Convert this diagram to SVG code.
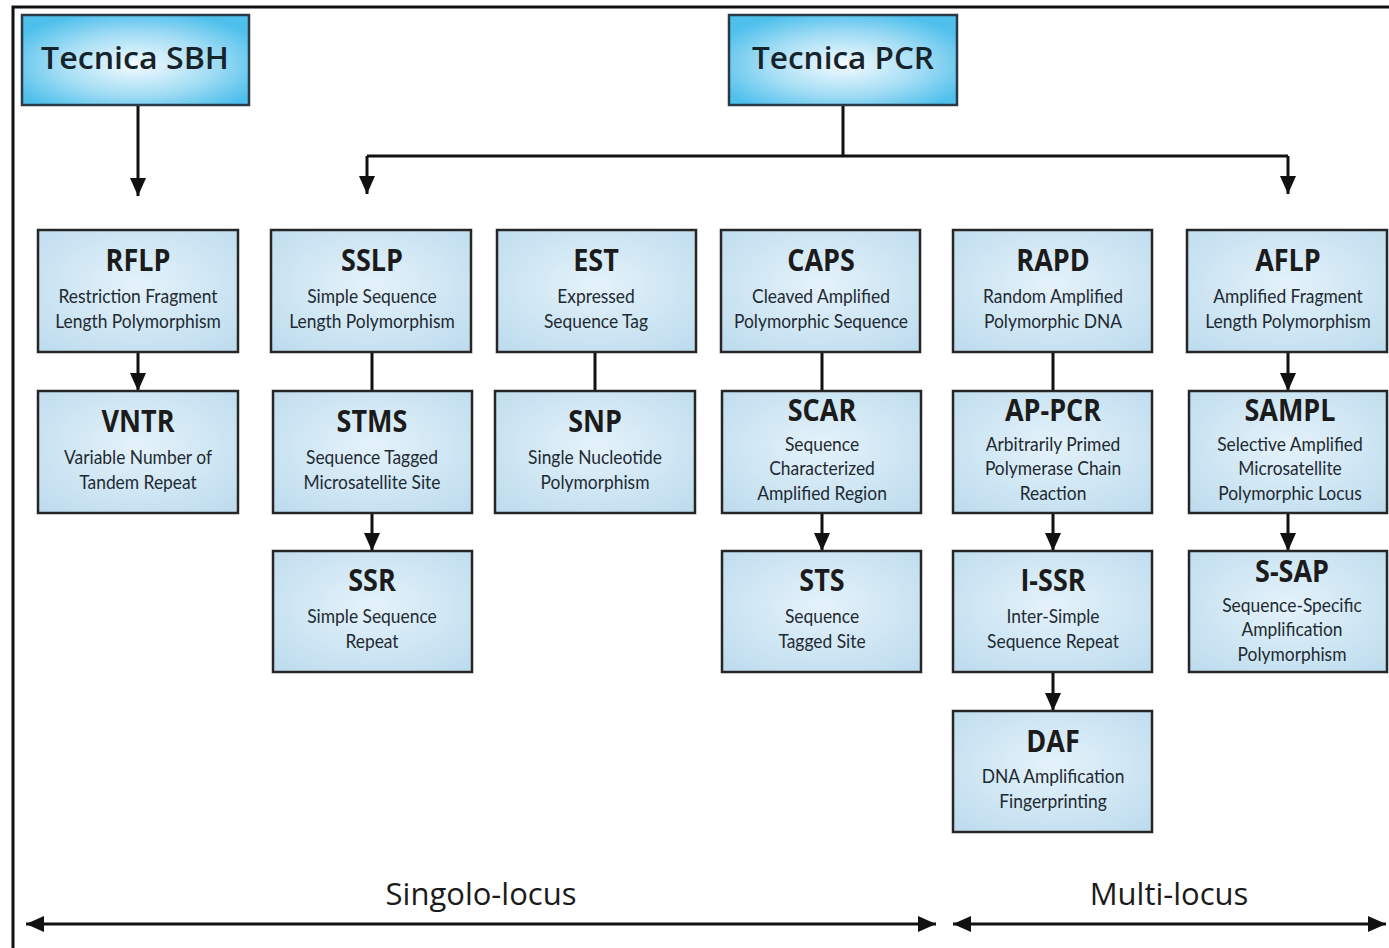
<svg xmlns="http://www.w3.org/2000/svg" width="1389" height="948" viewBox="0 0 1389 948">
<defs>
<radialGradient id="gHead" cx="50%" cy="55%" r="60%">
<stop offset="0" stop-color="#f4fbff"/>
<stop offset="0.55" stop-color="#a6def5"/>
<stop offset="1" stop-color="#4fc0ec"/>
</radialGradient>
<radialGradient id="gNode" cx="50%" cy="45%" r="70%">
<stop offset="0" stop-color="#e4f2fa"/>
<stop offset="1" stop-color="#bedcee"/>
</radialGradient>
<marker id="ah" viewBox="0 0 18 16" refX="18" refY="8" markerWidth="18" markerHeight="16" markerUnits="userSpaceOnUse" orient="auto-start-reverse">
<path d="M0,0 L18,8 L0,16 Z" fill="#111"/>
</marker>
<style>
.head{fill:url(#gHead);stroke:#2a3a44;stroke-width:2.5}
.node{fill:url(#gNode);stroke:#262626;stroke-width:2.5}
.ht{font-family:"Open Sans","Liberation Sans",sans-serif;font-weight:600;font-size:30px;fill:#17232b;text-anchor:middle}
.tt{font-family:"Open Sans","Liberation Sans",sans-serif;font-weight:700;font-size:30px;fill:#1b1b1b;text-anchor:middle}
.st{font-family:Lato,"Liberation Sans",sans-serif;font-weight:400;font-size:20px;fill:#1e2a32;text-anchor:middle}
.bt{font-family:"Open Sans","Liberation Sans",sans-serif;font-weight:400;font-size:31px;fill:#1b1b1b;text-anchor:middle}
.c{stroke:#111;stroke-width:3;fill:none}
.ca{stroke:#111;stroke-width:3;fill:none;marker-end:url(#ah)}
.cb{stroke:#111;stroke-width:3;fill:none;marker-end:url(#ah);marker-start:url(#ah)}
</style>
</defs>
<rect x="0" y="0" width="1389" height="948" fill="#ffffff"/>
<path d="M13,948 L13,7 L1389,7" stroke="#111" stroke-width="3" fill="none"/>

<g id="connectors">
<line class="ca" x1="138" y1="105" x2="138" y2="196"/>
<line class="c" x1="843" y1="105" x2="843" y2="156"/>
<line class="c" x1="367" y1="156" x2="1288" y2="156"/>
<line class="ca" x1="367" y1="156" x2="367" y2="194"/>
<line class="ca" x1="1288" y1="156" x2="1288" y2="194"/>
<line class="ca" x1="138" y1="352" x2="138" y2="391"/>
<line class="c" x1="372" y1="352" x2="372" y2="391"/>
<line class="ca" x1="372" y1="513" x2="372" y2="551"/>
<line class="c" x1="595" y1="352" x2="595" y2="391"/>
<line class="c" x1="822" y1="352" x2="822" y2="391"/>
<line class="ca" x1="822" y1="513" x2="822" y2="551"/>
<line class="c" x1="1053" y1="352" x2="1053" y2="391"/>
<line class="ca" x1="1053" y1="513" x2="1053" y2="551"/>
<line class="ca" x1="1053" y1="672" x2="1053" y2="711"/>
<line class="ca" x1="1288" y1="352" x2="1288" y2="391"/>
<line class="ca" x1="1288" y1="513" x2="1288" y2="551"/>
<line class="cb" x1="26" y1="924" x2="936" y2="924"/>
<line class="cb" x1="953" y1="924" x2="1386" y2="924"/>
</g>

<g id="sbh">
<rect class="head" x="22" y="15" width="227" height="90"/>
<text class="ht" x="135" y="69" textLength="188" lengthAdjust="spacingAndGlyphs">Tecnica SBH</text>
</g>
<g id="pcr">
<rect class="head" x="729" y="15" width="228" height="90"/>
<text class="ht" x="843" y="69" textLength="182" lengthAdjust="spacingAndGlyphs">Tecnica PCR</text>
</g>

<g id="rflp">
<rect class="node" x="38" y="230" width="200" height="122"/>
<text class="tt" transform="translate(138,271) scale(0.9,1)">RFLP</text>
<text class="st" transform="translate(138,303) scale(0.87,1)">Restriction Fragment</text>
<text class="st" transform="translate(138,328) scale(0.87,1)">Length Polymorphism</text>
</g>
<g id="sslp">
<rect class="node" x="271" y="230" width="200" height="122"/>
<text class="tt" transform="translate(372,271) scale(0.9,1)">SSLP</text>
<text class="st" transform="translate(372,303) scale(0.87,1)">Simple Sequence</text>
<text class="st" transform="translate(372,328) scale(0.87,1)">Length Polymorphism</text>
</g>
<g id="est">
<rect class="node" x="497" y="230" width="199" height="122"/>
<text class="tt" transform="translate(596,271) scale(0.9,1)">EST</text>
<text class="st" transform="translate(596,303) scale(0.87,1)">Expressed</text>
<text class="st" transform="translate(596,328) scale(0.87,1)">Sequence  Tag</text>
</g>
<g id="caps">
<rect class="node" x="721" y="230" width="199" height="122"/>
<text class="tt" transform="translate(821,271) scale(0.9,1)">CAPS</text>
<text class="st" transform="translate(821,303) scale(0.87,1)">Cleaved Amplified</text>
<text class="st" transform="translate(821,328) scale(0.87,1)">Polymorphic Sequence</text>
</g>
<g id="rapd">
<rect class="node" x="953" y="230" width="199" height="122"/>
<text class="tt" transform="translate(1053,271) scale(0.9,1)">RAPD</text>
<text class="st" transform="translate(1053,303) scale(0.87,1)">Random Amplified</text>
<text class="st" transform="translate(1053,328) scale(0.87,1)">Polymorphic DNA</text>
</g>
<g id="aflp">
<rect class="node" x="1187" y="230" width="200" height="122"/>
<text class="tt" transform="translate(1288,271) scale(0.9,1)">AFLP</text>
<text class="st" transform="translate(1288,303) scale(0.87,1)">Amplified Fragment</text>
<text class="st" transform="translate(1288,328) scale(0.87,1)">Length Polymorphism</text>
</g>

<g id="vntr">
<rect class="node" x="38" y="391" width="200" height="122"/>
<text class="tt" transform="translate(138,432) scale(0.9,1)">VNTR</text>
<text class="st" transform="translate(138,464) scale(0.87,1)">Variable Number of</text>
<text class="st" transform="translate(138,489) scale(0.87,1)">Tandem Repeat</text>
</g>
<g id="stms">
<rect class="node" x="273" y="391" width="199" height="122"/>
<text class="tt" transform="translate(372,432) scale(0.9,1)">STMS</text>
<text class="st" transform="translate(372,464) scale(0.87,1)">Sequence Tagged</text>
<text class="st" transform="translate(372,489) scale(0.87,1)">Microsatellite Site</text>
</g>
<g id="snp">
<rect class="node" x="495" y="391" width="200" height="122"/>
<text class="tt" transform="translate(595,432) scale(0.9,1)">SNP</text>
<text class="st" transform="translate(595,464) scale(0.87,1)">Single Nucleotide</text>
<text class="st" transform="translate(595,489) scale(0.87,1)">Polymorphism</text>
</g>
<g id="scar">
<rect class="node" x="722" y="391" width="199" height="122"/>
<text class="tt" transform="translate(822,421) scale(0.9,1)">SCAR</text>
<text class="st" transform="translate(822,451) scale(0.87,1)">Sequence</text>
<text class="st" transform="translate(822,475) scale(0.87,1)">Characterized</text>
<text class="st" transform="translate(822,500) scale(0.87,1)">Amplified Region</text>
</g>
<g id="appcr">
<rect class="node" x="953" y="391" width="199" height="122"/>
<text class="tt" transform="translate(1053,421) scale(0.9,1)">AP-PCR</text>
<text class="st" transform="translate(1053,451) scale(0.87,1)">Arbitrarily Primed</text>
<text class="st" transform="translate(1053,475) scale(0.87,1)">Polymerase Chain</text>
<text class="st" transform="translate(1053,500) scale(0.87,1)">Reaction</text>
</g>
<g id="sampl">
<rect class="node" x="1189" y="391" width="198" height="122"/>
<text class="tt" transform="translate(1290,421) scale(0.9,1)">SAMPL</text>
<text class="st" transform="translate(1290,451) scale(0.87,1)">Selective Amplified</text>
<text class="st" transform="translate(1290,475) scale(0.87,1)">Microsatellite</text>
<text class="st" transform="translate(1290,500) scale(0.87,1)">Polymorphic Locus</text>
</g>

<g id="ssr">
<rect class="node" x="273" y="551" width="199" height="121"/>
<text class="tt" transform="translate(372,591) scale(0.9,1)">SSR</text>
<text class="st" transform="translate(372,623) scale(0.87,1)">Simple Sequence</text>
<text class="st" transform="translate(372,648) scale(0.87,1)">Repeat</text>
</g>
<g id="sts">
<rect class="node" x="722" y="551" width="199" height="121"/>
<text class="tt" transform="translate(822,591) scale(0.9,1)">STS</text>
<text class="st" transform="translate(822,623) scale(0.87,1)">Sequence</text>
<text class="st" transform="translate(822,648) scale(0.87,1)">Tagged Site</text>
</g>
<g id="issr">
<rect class="node" x="953" y="551" width="199" height="121"/>
<text class="tt" transform="translate(1053,591) scale(0.9,1)">I-SSR</text>
<text class="st" transform="translate(1053,623) scale(0.87,1)">Inter-Simple</text>
<text class="st" transform="translate(1053,648) scale(0.87,1)">Sequence Repeat</text>
</g>
<g id="ssap">
<rect class="node" x="1189" y="551" width="198" height="121"/>
<text class="tt" transform="translate(1292,582) scale(0.9,1)">S-SAP</text>
<text class="st" transform="translate(1292,612) scale(0.87,1)">Sequence-Specific</text>
<text class="st" transform="translate(1292,636) scale(0.87,1)">Amplification</text>
<text class="st" transform="translate(1292,661) scale(0.87,1)">Polymorphism</text>
</g>

<g id="daf">
<rect class="node" x="953" y="711" width="199" height="121"/>
<text class="tt" transform="translate(1053,752) scale(0.9,1)">DAF</text>
<text class="st" transform="translate(1053,783) scale(0.87,1)">DNA Amplification</text>
<text class="st" transform="translate(1053,808) scale(0.87,1)">Fingerprinting</text>
</g>

<g id="labels">
<text class="bt" x="481" y="905">Singolo-locus</text>
<text class="bt" x="1169" y="905">Multi-locus</text>
</g>
</svg>
